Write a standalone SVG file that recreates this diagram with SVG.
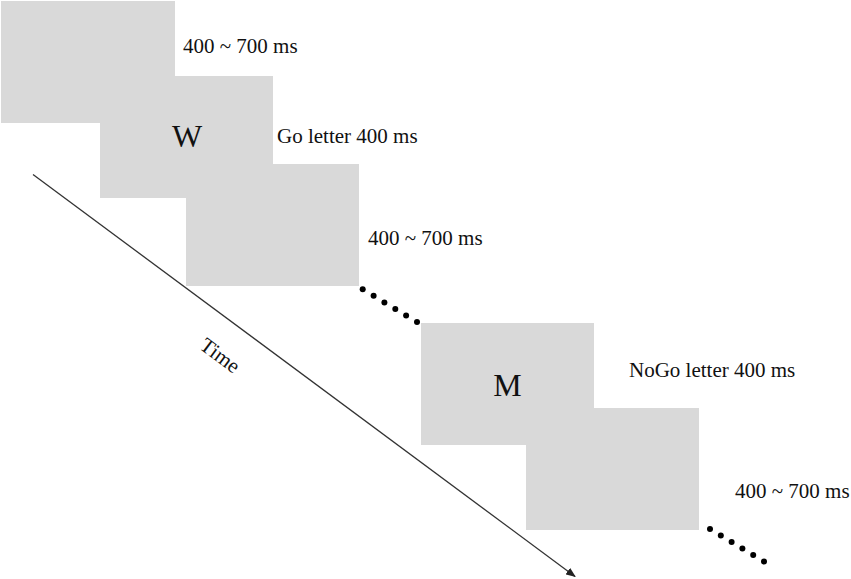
<svg xmlns="http://www.w3.org/2000/svg" width="851" height="579" viewBox="0 0 851 579">
<style>
.box{fill:#d9d9d9}
.lbl{font-family:"Liberation Serif","Times New Roman",serif;font-size:21px;fill:#111}
.big{font-family:"Liberation Serif","Times New Roman",serif;font-size:32px;fill:#111;text-anchor:middle}
.dot{fill:#000}
.axis{stroke:#333;stroke-width:1.3;fill:none}
</style>
<defs>
<marker id="ah" markerWidth="10" markerHeight="8" refX="9" refY="4" orient="auto" markerUnits="userSpaceOnUse">
<path d="M0,0 L10,4 L0,8 Z" fill="#222"/>
</marker>
</defs>
<rect width="851" height="579" fill="#fff"/>
<g id="blank1"><rect class="box" x="1" y="1" width="174" height="122"/><text class="lbl" x="183" y="53">400 ~ 700 ms</text></g>
<g id="go"><rect class="box" x="100" y="76" width="173" height="122"/><text class="big" x="187" y="147">W</text><text class="lbl" x="277" y="143">Go letter 400 ms</text></g>
<g id="blank2"><rect class="box" x="186" y="164" width="173" height="122"/><text class="lbl" x="368" y="245">400 ~ 700 ms</text></g>
<g id="nogo"><rect class="box" x="421" y="323" width="173" height="122"/><text class="big" x="507.5" y="396">M</text><text class="lbl" x="629" y="377">NoGo letter 400 ms</text></g>
<g id="blank3"><rect class="box" x="526" y="408" width="173" height="122"/><text class="lbl" x="735" y="498">400 ~ 700 ms</text></g>
<g id="connectors">
<line class="axis" x1="33" y1="174.5" x2="575" y2="576.5" marker-end="url(#ah)"/>
<text class="lbl" font-size="20" text-anchor="middle" transform="translate(216,361) rotate(36.6)">Time</text>
<g id="dots1">
<circle class="dot" cx="362.7" cy="289.3" r="3"/><circle class="dot" cx="373.6" cy="295.8" r="3"/><circle class="dot" cx="384.4" cy="302.4" r="3"/><circle class="dot" cx="395.3" cy="308.9" r="3"/><circle class="dot" cx="406.1" cy="315.5" r="3"/><circle class="dot" cx="417" cy="322" r="3"/>
</g>
<g id="dots2">
<circle class="dot" cx="710" cy="529" r="3"/><circle class="dot" cx="720.8" cy="535.5" r="3"/><circle class="dot" cx="731.6" cy="542" r="3"/><circle class="dot" cx="742.4" cy="548.5" r="3"/><circle class="dot" cx="753.2" cy="555" r="3"/><circle class="dot" cx="764" cy="561.5" r="3"/>
</g>
</g>
</svg>
